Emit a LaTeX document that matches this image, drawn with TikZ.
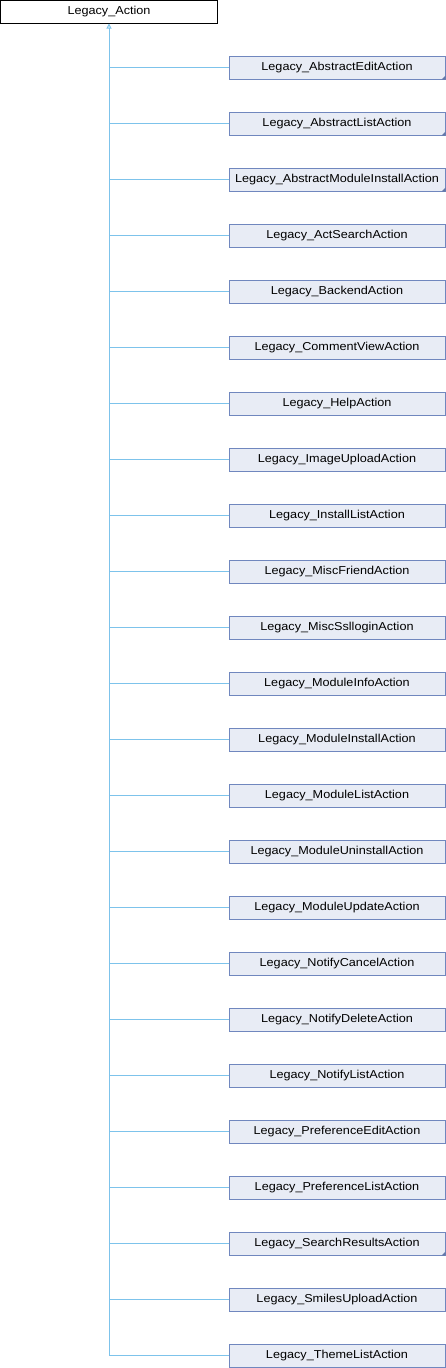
\documentclass[tikz,border=0pt]{standalone}
\usepackage{fontspec}
\setmainfont{Liberation Sans}[FakeStretch=1.1]
\usepackage{tikz}
\usetikzlibrary{arrows.meta, positioning, calc}
\definecolor{clsborder}{RGB}{112,135,190}
\definecolor{clsfill}{RGB}{232,236,245}
\definecolor{clsedge}{RGB}{125,195,235}
\definecolor{clsmark}{RGB}{100,120,170}
\tikzset{
  basecls/.style={rectangle, draw=black, fill=white, minimum width=217pt, minimum height=23pt,
    inner sep=0pt, font=\fontsize{11.5}{13}\selectfont, line width=1pt},
  subcls/.style={rectangle, draw=clsborder, fill=clsfill, minimum width=216pt, minimum height=23pt,
    inner sep=0pt, font=\fontsize{11.5}{13}\selectfont, line width=1pt},
  inherit/.style={color=clsedge, line width=1pt},
  arr/.style={-{Triangle[open, length=5pt, width=5pt]}, color=clsedge, line width=1pt}
}

\begin{document}
\begin{tikzpicture}[x=1pt, y=-1pt]
\useasboundingbox (0,0) rectangle (446,1368);
%--- base class ---
\node[basecls] (base) at (109, 11.5) {Legacy\_Action};

%--- derived classes, one row every 56px ---
\foreach \name [count=\i] in {AbstractEditAction, AbstractListAction, AbstractModuleInstallAction,
    ActSearchAction, BackendAction, CommentViewAction, HelpAction, ImageUploadAction,
    InstallListAction, MiscFriendAction, MiscSslloginAction, ModuleInfoAction,
    ModuleInstallAction, ModuleListAction, ModuleUninstallAction, ModuleUpdateAction,
    NotifyCancelAction, NotifyDeleteAction, NotifyListAction, PreferenceEditAction,
    PreferenceListAction, SearchResultsAction, SmilesUploadAction, ThemeListAction}
{
  \node[subcls] (sub\i) at (337, 67.7+56*\i-56) {Legacy\_\name};
}

% small corner marks: these classes have further subclasses
\foreach \i in {1,2,3,22}
  \fill[clsmark] (sub\i.south east) -- ++(-4,0) -- ++(4,-4) -- cycle;

%--- inheritance edges ---
\foreach \i in {1,...,23}
  \draw[inherit] (sub\i.west) -- (sub\i.west -| base.south);
\draw[arr] (sub24.west) -| (base.south);
\end{tikzpicture}
\end{document}
